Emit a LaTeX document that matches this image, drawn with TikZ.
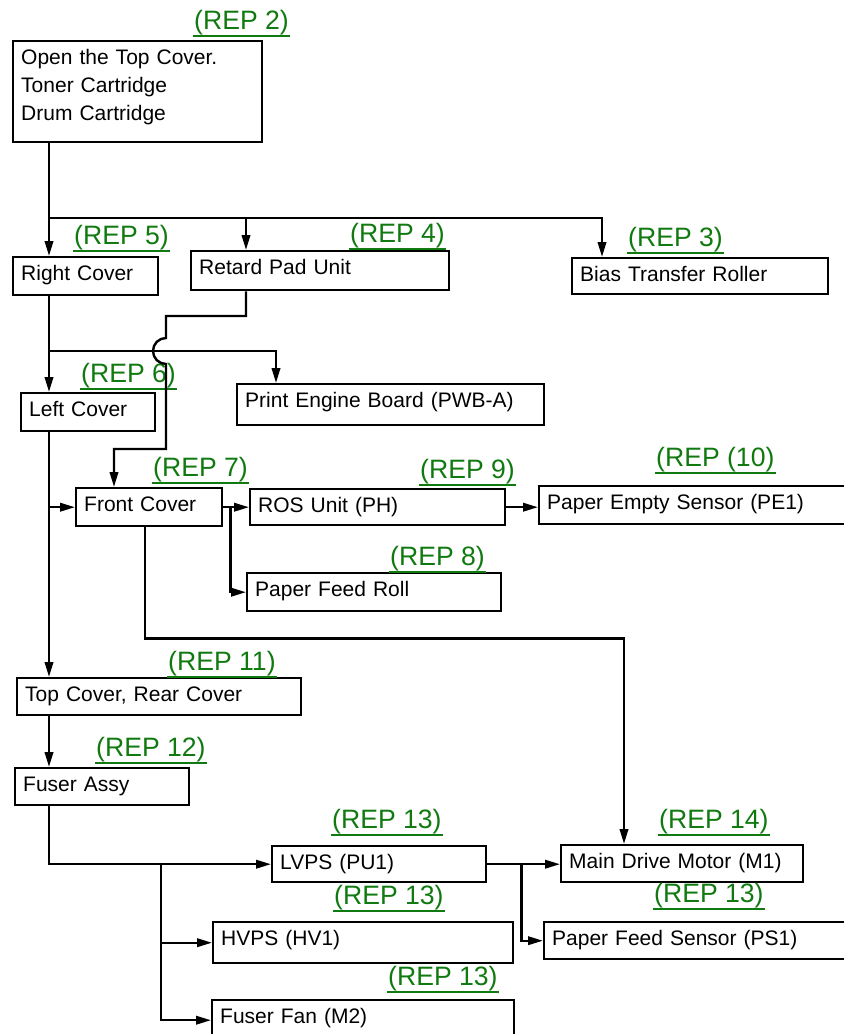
\documentclass[tikz,border=0pt]{standalone}
\usepackage{fontspec}
\setmainfont{Liberation Sans}
\usetikzlibrary{arrows.meta,calc}
\definecolor{repgreen}{RGB}{16,122,16}

\begin{document}
\begin{tikzpicture}[x=0.5pt,y=-0.5pt,line width=1.2pt,
      box/.style 2 args={draw,anchor=north west,align=left,inner xsep=4pt,inner ysep=3pt,
        font=\fontsize{10.5pt}{14pt}\selectfont,text height=8.5pt,text width=#1,text depth=#2},
      rep/.style={anchor=south west,inner sep=0pt,text=repgreen,
        font=\fontsize{13.3pt}{16pt}\selectfont,
        append after command={(\tikzlastnode.south west) edge[draw=repgreen,line width=0.8pt] (\tikzlastnode.south east)}},
      arr/.style={-{Triangle[length=7.5pt,width=4.2pt]}}]
      \useasboundingbox (0,0) rectangle (844,1034);

      \node[box={116.5pt}{36pt}] (open) at (12,40) {Open the Top Cover.\\Toner Cartridge\\Drum Cartridge};
      \node[box={64.5pt}{4.5pt}] (right) at (12,256) {Right Cover};
      \node[box={121pt}{5pt}] (retard) at (190,250) {Retard Pad Unit};
      \node[box={120pt}{3.5pt}] (bias) at (571,257) {Bias Transfer Roller};
      \node[box={145.5pt}{6pt}] (peb) at (236,383) {Print Engine Board (PWB-A)};
      \node[box={59pt}{4.5pt}] (left) at (20,392) {Left Cover};
      \node[box={65pt}{4.5pt}] (front) at (75,487) {Front Cover};
      \node[box={119.5pt}{3.5pt}] (ros) at (249,488) {ROS Unit (PH)};
      \node[box={147pt}{4.5pt}] (pes) at (538,485) {Paper Empty Sensor (PE1)};
      \node[box={119pt}{4.5pt}] (pfr) at (246,572) {Paper Feed Roll};
      \node[box={134pt}{4pt}] (topc) at (16,677) {Top Cover, Rear Cover};
      \node[box={79pt}{4pt}] (fuser) at (14,767) {Fuser Assy};
      \node[box={99pt}{3.5pt}] (lvps) at (271,845) {LVPS (PU1)};
      \node[box={142pt}{6pt}] (hvps) at (212,921) {HVPS (HV1)};
      \node[box={143pt}{5.5pt}] (fan) at (211,999) {Fuser Fan (M2)};
      \node[box={113pt}{4pt}] (mdm) at (560,844) {Main Drive Motor (M1)};
      \node[box={147pt}{4pt}] (pfs) at (543,921) {Paper Feed Sensor (PS1)};

      \node[rep] (r2) at (193,36) {(REP 2)};
      \node[rep] (r5) at (73,251) {(REP 5)};
      \node[rep] (r4) at (349,249) {(REP 4)};
      \node[rep] (r3) at (627,253) {(REP 3)};
      \node[rep] (r6) at (80,389) {(REP 6)};
      \node[rep] (r7) at (152,483) {(REP 7)};
      \node[rep] (r9) at (419,485) {(REP 9)};
      \node[rep] (r10) at (655,473) {(REP (10)};
      \node[rep] (r8) at (389,572) {(REP 8)};
      \node[rep] (r11) at (167,677) {(REP 11)};
      \node[rep] (r12) at (95,763) {(REP 12)};
      \node[rep] (r13a) at (331,835) {(REP 13)};
      \node[rep] (r13b) at (333,911) {(REP 13)};
      \node[rep] (r13c) at (387,992) {(REP 13)};
      \node[rep] (r14) at (658,835) {(REP 14)};
      \node[rep] (r13d) at (653,909) {(REP 13)};

      \coordinate (j1) at (49,218);
      \coordinate (j2) at (49,351);
      \coordinate (lane) at ($(left.south west)+(29,0)$);
      \coordinate (rp) at ($(retard.north west)+(56,0)$);
      \coordinate (fc) at ($(front.east)+(7,0)$);
      \coordinate (fd) at ($(lvps.west)-(110,0)$);
      \coordinate (ld) at ($(lvps.east)+(34,0)$);

      \draw[arr] (j1 |- open.south) -- (j1) -| ($(bias.north west)+(31,0)$);
      \draw[arr] (j1) -- (j1 |- right.north);
      \draw[arr] (rp |- j1) -- (rp);
      \draw[arr] (j2 |- right.south) -- (j2 |- left.north);
      \draw[arr] (j2) -| ($(peb.north west)+(40,0)$);
      \draw[arr] ($(retard.south west)+(56,0)$) |- (166,316) -- (166,338)
        arc[start angle=90,end angle=270,radius=6.5pt] -- (166,449) -| ($(front.north west)+(39,0)$);
      \draw[arr] (lane) -- (lane |- topc.north);
      \draw[arr] (lane |- front.west) -- (front.west);
      \draw[arr] (front.east) -- (ros.west);
      \draw[arr] (fc) |- (pfr.west);
      \draw[arr] (ros.east) -- (ros.east -| pes.west);
      \draw[arr] ($(front.south west)+(70,0)$) -- ++(0,111) -| ($(mdm.north west)+(64,0)$);
      \draw[arr] (lane |- topc.south) -- (lane |- fuser.north);
      \draw[arr] (lane |- fuser.south) |- (lvps.west);
      \draw[arr] (fd) |- (fan.west);
      \draw[arr] (fd |- hvps.west) -- (hvps.west);
      \draw[arr] (lvps.east) -- (lvps.east -| mdm.west);
      \draw[arr] (ld) |- (pfs.west);
    \end{tikzpicture}
\end{document}
